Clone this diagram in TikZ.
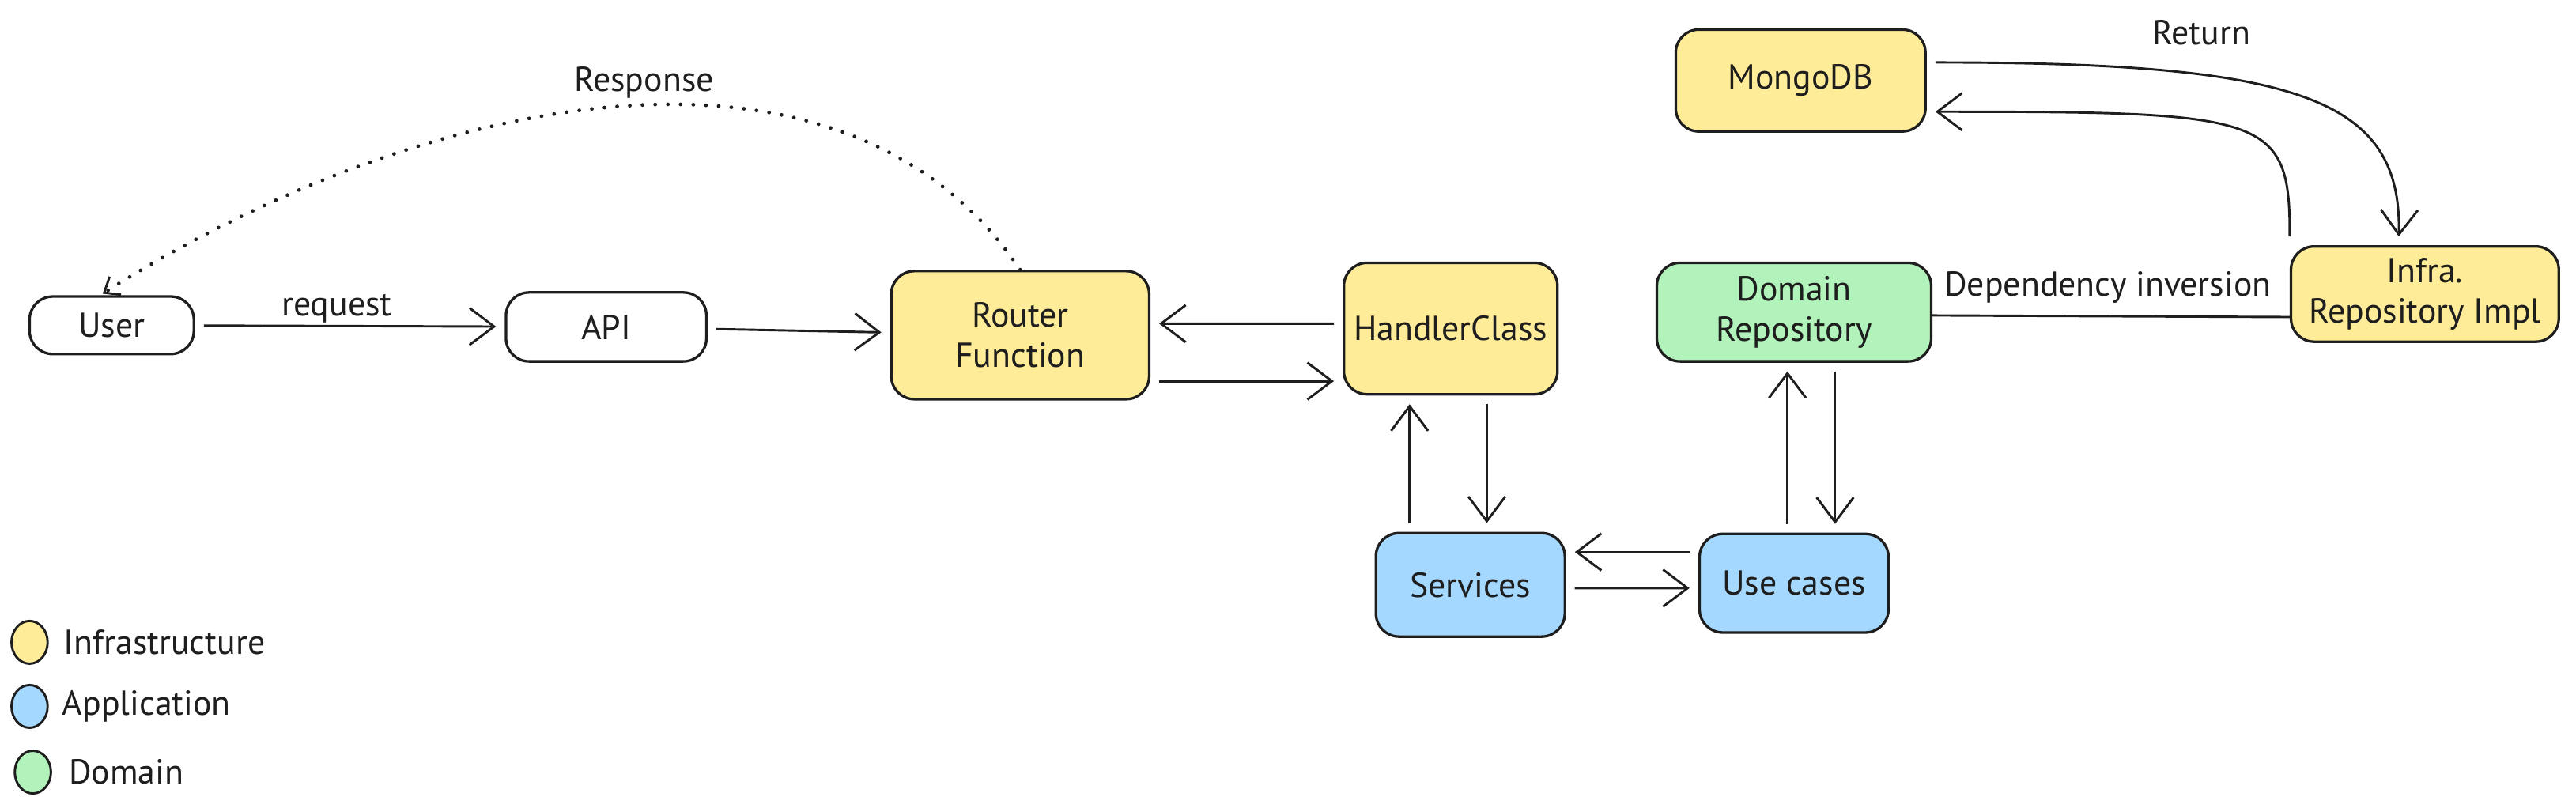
\documentclass[tikz,border=0pt]{standalone}
\usepackage{fontspec}
\setmainfont{PT Sans}
\usetikzlibrary{positioning,arrows.meta,shapes.geometric}
\definecolor{infracol}{HTML}{FFEC99}
\definecolor{appcol}{HTML}{A5D8FF}
\definecolor{domaincol}{HTML}{B2F2BB}
\definecolor{ink}{HTML}{1E1E1E}
\begin{document}
\begin{tikzpicture}[
        font=\fontsize{12}{14}\selectfont,
        box/.style={rounded corners=8pt,draw=ink,line width=0.9pt,align=center,inner sep=0pt,text=ink},
        infrabox/.style={box,fill=infracol},
        appbox/.style={box,fill=appcol},
        domainbox/.style={box,fill=domaincol},
        arr/.style={draw=ink,line width=0.8pt,-{Straight Barb[length=3mm,width=4.5mm]},shorten <=3pt,shorten >=3pt},
        dotarr/.style={draw=ink,line width=1.3pt,line cap=round,dash pattern=on 0pt off 4.4pt,-{Straight Barb[length=1.6mm,width=2.6mm,line width=0.8pt]},shorten >=1pt},
        legdot/.style={ellipse,draw=ink,line width=0.8pt,minimum width=4.4mm,minimum height=5.2mm,inner sep=0pt},
        lbl/.style={text=ink}
        ]
    \useasboundingbox (0, 0) rectangle (31.36, -9.88);

    % request path
    \node (user) at (1.36, -3.96) [box,minimum width=2cm,minimum height=7mm] {User};
    \node (api) at (7.38, -3.98) [box,minimum width=2.44cm,minimum height=8.4mm] {API};
    \node (router) at (12.42, -4.08) [infrabox,minimum width=3.14cm,minimum height=15.6mm] {Router\\Function};
    \node (handler) at (17.66, -4.0) [infrabox,minimum width=2.6cm,minimum height=16mm] {HandlerClass};
    \node (services) at (17.9, -7.12) [appbox,minimum width=2.3cm,minimum height=12.6mm] {Services};
    \node (usecases) at (21.84, -7.1) [appbox,minimum width=2.3cm,minimum height=12mm] {Use cases};
    \node (domainrepo) at (21.84, -3.8) [domainbox,minimum width=3.34cm,minimum height=12mm] {Domain\\Repository};
    \node (mongo) at (21.92, -0.98) [infrabox,minimum width=3.04cm,minimum height=12.4mm] {MongoDB};
    \node (infrarepo) at (29.52, -3.58) [infrabox,minimum width=3.26cm,minimum height=11.6mm] {Infra.\\Repository Impl};

    % labels
    \node (request) at (4.1, -3.76) [lbl] {request};
    \node (response) at (7.84, -1.0) [lbl] {Response};
    \node (return) at (26.8, -0.4) [lbl] {Return};
    \node (depinv) at (25.66, -3.5) [lbl] {Dependency inversion};

    \draw[arr] (user) to (api);
    \draw[arr] (api) to (router);
    \draw[arr] ([yshift=0.06cm]handler.west) to ([yshift=0.14cm]router.east);
    \draw[arr] ([yshift=-0.56cm]router.east) to ([yshift=-0.64cm]handler.west);
    \draw[arr] (services.north -| 17.16,0) to (handler.south -| 17.16,0);
    \draw[arr] (handler.south -| 18.1,0) to (services.north -| 18.1,0);
    \draw[arr] ([yshift=0.38cm]usecases.west) to ([yshift=0.4cm]services.east);
    \draw[arr] ([yshift=-0.04cm]services.east) to ([yshift=-0.06cm]usecases.west);
    \draw[arr] (usecases.north -| 21.76,0) to (domainrepo.south -| 21.76,0);
    \draw[arr] (domainrepo.south -| 22.34,0) to (usecases.north -| 22.34,0);
    \draw[draw=ink,line width=0.8pt] ([yshift=-0.04cm]domainrepo.east) to ([yshift=-0.28cm]infrarepo.west);
    \draw[arr] ([yshift=0.22cm]mongo.east) .. controls (28.0, -0.76) and (29.24, -1.2) .. ([xshift=-0.32cm]infrarepo.north);
    \draw[arr] (infrarepo.north west) .. controls (27.88, -1.4) and (27.6, -1.36) .. ([yshift=-0.38cm]mongo.east);
    \draw[dotarr] (router.north) .. controls (10.2, 0.0) and (5.0, -1.2) .. ([xshift=-0.14cm]user.north);

    % legend
    \node (infradot) at (0.36, -7.82) [legdot,fill=infracol] {};
    \node (appdot) at (0.36, -8.6) [legdot,fill=appcol] {};
    \node (domaindot) at (0.4, -9.4) [legdot,fill=domaincol] {};
    \node (infratxt) [lbl,right=0.06cm of infradot] {Infrastructure};
    \node (apptxt) [lbl,right=0.04cm of appdot] {Application};
    \node (domaintxt) [lbl,right=0.08cm of domaindot] {Domain};
\end{tikzpicture}
\end{document}
